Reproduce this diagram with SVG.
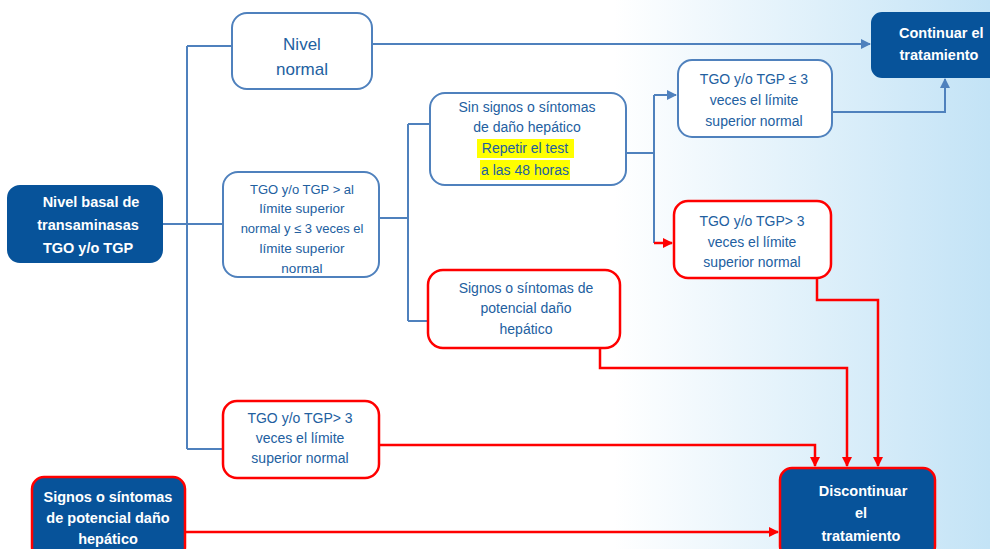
<svg xmlns="http://www.w3.org/2000/svg" width="990" height="549" viewBox="0 0 990 549">
<defs>
<linearGradient id="bg" x1="0" y1="0" x2="1" y2="0">
<stop offset="0" stop-color="#ffffff"/>
<stop offset="0.62" stop-color="#ffffff"/>
<stop offset="1" stop-color="#c3e3f6"/>
</linearGradient>
<marker id="ab" viewBox="0 0 10 10" refX="9" refY="5" markerWidth="10" markerHeight="10" markerUnits="userSpaceOnUse" orient="auto">
<path d="M0,0 L10,5 L0,10 z" fill="#4f81bd"/>
</marker>
<marker id="ar" viewBox="0 0 10 10" refX="9" refY="5" markerWidth="10" markerHeight="10" markerUnits="userSpaceOnUse" orient="auto">
<path d="M0,0 L10,5 L0,10 z" fill="#ff0000"/>
</marker>
</defs>
<style>
.lb{fill:none;stroke:#4f81bd;stroke-width:2}
.lr{fill:none;stroke:#ff0000;stroke-width:2.5}
.wb{fill:#ffffff;stroke:#4f81bd;stroke-width:2}
.wr{fill:#ffffff;stroke:#ff0000;stroke-width:2.5}
.db{fill:#07539a;stroke:#07539a;stroke-width:2}
.dr{fill:#07539a;stroke:#ff0000;stroke-width:2.5}
.t{font-family:"Liberation Sans",Arial,sans-serif;font-size:14px;fill:#22609f;text-anchor:middle}
.tw{font-family:"Liberation Sans",Arial,sans-serif;font-size:14.5px;font-weight:bold;fill:#ffffff;text-anchor:middle}
.hl{fill:#ffff00}
</style>
<rect x="0" y="0" width="990" height="549" fill="url(#bg)"/>

<g id="connectors">
<path class="lb" d="M187,46 V449 M187,46 H232 M162,224 H223 M187,449 H223"/>
<path class="lb" d="M372,44 H870" marker-end="url(#ab)"/>
<path class="lb" d="M379,218 H408 M408,124 V321 M408,124 H430 M408,321 H428"/>
<path class="lb" d="M626,153 H654 M654,95 V243"/>
<path class="lb" d="M654,95 H676" marker-end="url(#ab)"/>
<path class="lr" d="M654,243 H672" marker-end="url(#ar)"/>
<path class="lb" d="M832,112 H945 V79" marker-end="url(#ab)"/>
<path class="lr" d="M817,278 V300 H878 V466" marker-end="url(#ar)"/>
<path class="lr" d="M600,348 V368 H847 V466" marker-end="url(#ar)"/>
<path class="lr" d="M379,445 H815 V466" marker-end="url(#ar)"/>
<path class="lr" d="M185,532 H778" marker-end="url(#ar)"/>
</g>

<g id="nivel-normal">
<rect class="wb" x="232" y="13" width="140" height="76" rx="15"/>
<text class="t" x="302" y="50" style="font-size:17px">Nivel</text>
<text class="t" x="302" y="75" style="font-size:17px">normal</text>
</g>

<g id="nivel-basal">
<rect class="db" x="8" y="186" width="154" height="76" rx="12"/>
<text class="tw" x="91" y="207">Nivel basal de</text>
<text class="tw" x="88" y="230">transaminasas</text>
<text class="tw" x="88" y="253">TGO y/o TGP</text>
</g>

<g id="entre-1-y-3">
<rect class="wb" x="223" y="172" width="156" height="105" rx="15"/>
<text class="t" x="302" y="194" style="font-size:13px">TGO y/o TGP  &gt; al</text>
<text class="t" x="302" y="213" style="font-size:13.5px">límite superior</text>
<text class="t" x="302" y="233" style="font-size:13px">normal y ≤ 3 veces el</text>
<text class="t" x="302" y="253" style="font-size:13.5px">límite superior</text>
<text class="t" x="302" y="273" style="font-size:13.5px">normal</text>
</g>

<g id="sin-signos">
<rect class="wb" x="430" y="93" width="196" height="92" rx="15"/>
<rect class="hl" x="477" y="139" width="97" height="19"/>
<rect class="hl" x="480" y="160" width="90" height="20"/>
<text class="t" x="527" y="112">Sin signos o síntomas</text>
<text class="t" x="527" y="132">de daño hepático</text>
<text class="t" x="525" y="153">Repetir el test</text>
<text class="t" x="525" y="175">a las 48 horas</text>
</g>

<g id="signos-medio">
<rect class="wr" x="428" y="270" width="192" height="78" rx="15"/>
<text class="t" x="526" y="293">Signos o síntomas de</text>
<text class="t" x="526" y="313">potencial daño</text>
<text class="t" x="526" y="334">hepático</text>
</g>

<g id="tgo-menor-3">
<rect class="wb" x="678" y="60" width="154" height="77" rx="14"/>
<text class="t" x="754" y="84">TGO y/o TGP ≤ 3</text>
<text class="t" x="754" y="105">veces el límite</text>
<text class="t" x="754" y="126">superior normal</text>
</g>

<g id="tgo-mayor-3-derecha">
<rect class="wr" x="674" y="201" width="157" height="77" rx="14"/>
<text class="t" x="752" y="226">TGO y/o TGP&gt; 3</text>
<text class="t" x="752" y="247">veces el límite</text>
<text class="t" x="752" y="267">superior normal</text>
</g>

<g id="tgo-mayor-3-abajo">
<rect class="wr" x="223" y="401" width="156" height="77" rx="14"/>
<text class="t" x="300" y="423">TGO y/o TGP&gt; 3</text>
<text class="t" x="300" y="443">veces el límite</text>
<text class="t" x="300" y="463">superior normal</text>
</g>

<g id="signos-abajo">
<rect class="dr" x="32" y="477" width="153" height="82" rx="12"/>
<text class="tw" x="108" y="502">Signos o síntomas</text>
<text class="tw" x="108" y="523">de potencial daño</text>
<text class="tw" x="108" y="544">hepático</text>
</g>

<g id="continuar">
<rect class="db" x="872" y="13" width="130" height="64" rx="10"/>
<text class="tw" x="899" y="38" style="text-anchor:start">Continuar  el</text>
<text class="tw" x="939" y="60">tratamiento</text>
</g>

<g id="discontinuar">
<rect class="dr" x="780" y="468" width="155" height="90" rx="12"/>
<text class="tw" x="863" y="496">Discontinuar</text>
<text class="tw" x="861" y="518">el</text>
<text class="tw" x="861" y="541">tratamiento</text>
</g>
</svg>
